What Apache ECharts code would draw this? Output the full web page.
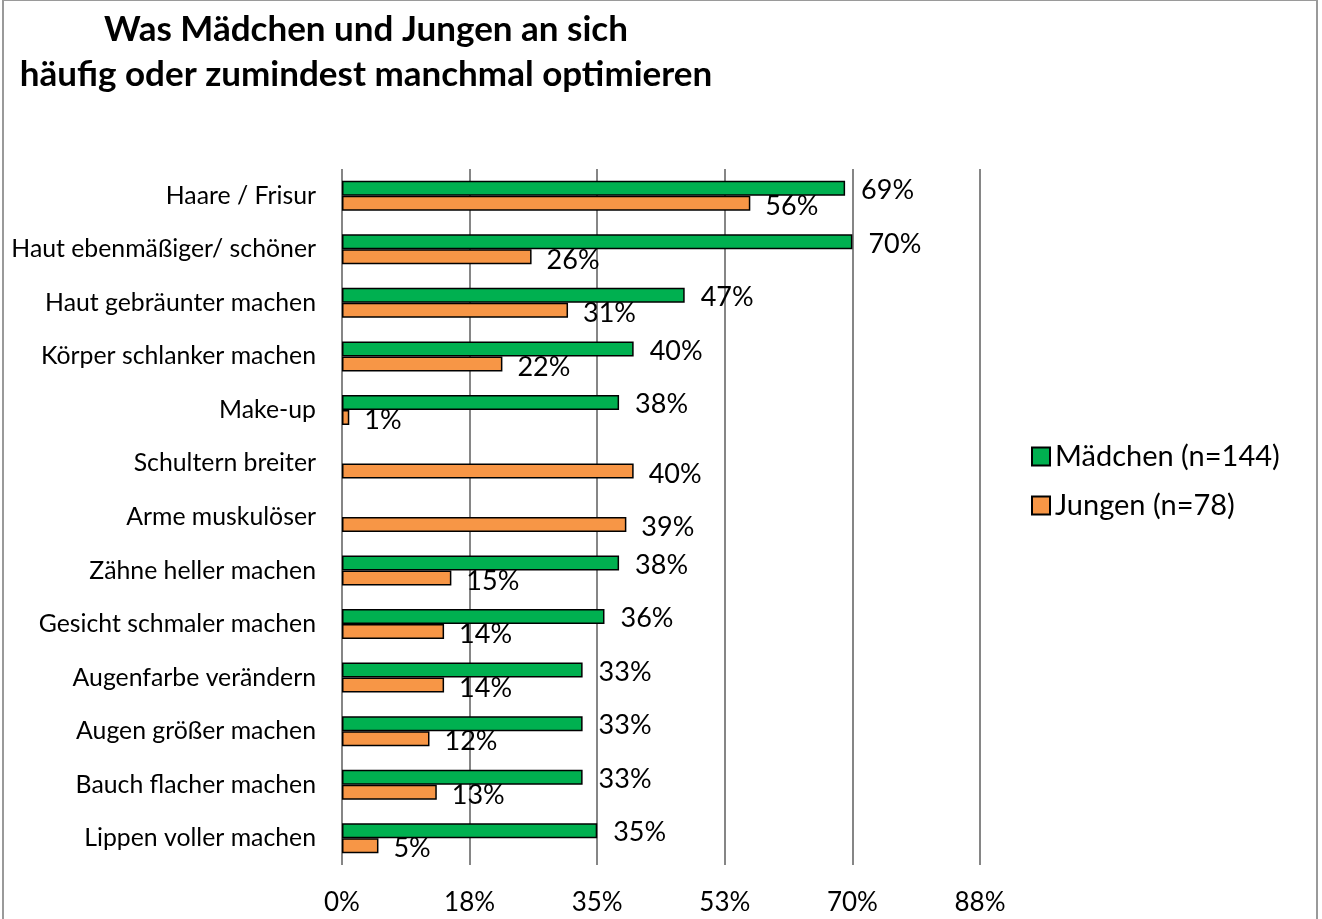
<!DOCTYPE html>
<html>
<head>
<meta charset="utf-8">
<script src="https://cdn.jsdelivr.net/npm/echarts@6/dist/echarts.min.js"></script>
<style>
  html, body { margin: 0; padding: 0; background: #fff; }
  #chart { width: 1322px; height: 919px; }
</style>
</head>
<body>
<div id="chart"></div>
<script>
// Daten
var categories = [
    'Haare / Frisur',
    'Haut ebenmäßiger/ schöner',
    'Haut gebräunter machen',
    'Körper schlanker machen',
    'Make-up',
    'Schultern breiter',
    'Arme muskulöser',
    'Zähne heller machen',
    'Gesicht schmaler machen',
    'Augenfarbe verändern',
    'Augen größer machen',
    'Bauch flacher machen',
    'Lippen voller machen'
];
var maedchen = [69, 70, 47, 40, 38, null, null, 38, 36, 33, 33, 33, 35];
var jungen = [56, 26, 31, 22, 1, 40, 39, 15, 14, 14, 12, 13, 5];
var xTickLabels = ['0%', '18%', '35%', '53%', '70%', '88%'];

var chart = echarts.init(document.getElementById('chart'));
var fontName = 'Lato, "Open Sans", sans-serif';

var option = {
    animation: false,
    textStyle: { fontFamily: fontName },
    title: {
        text: 'Was Mädchen und Jungen an sich\nhäufig oder zumindest manchmal optimieren',
        left: 361,
        top: 2,
        textAlign: 'center',
        textStyle: {
            fontFamily: fontName,
            fontSize: 35,
            fontWeight: 'bold',
            color: '#000',
            lineHeight: 45
        }
    },
    legend: {
        orient: 'vertical',
        left: 1026,
        top: 437,
        itemWidth: 18,
        itemHeight: 18,
        itemGap: 20,
        icon: 'rect',
        textStyle: { fontSize: 29, color: '#000', fontFamily: fontName },
        data: ['Mädchen (n=144)', 'Jungen (n=78)']
    },
    grid: {
        left: 342,
        right: 342,
        top: 169,
        bottom: 54
    },
    xAxis: {
        type: 'value',
        min: 0,
        max: 87.5,
        interval: 17.5,
        axisLine: { show: false },
        axisTick: { show: false },
        axisLabel: {
            fontSize: 26,
            color: '#000',
            margin: 25,
            formatter: function (v, i) { return xTickLabels[i]; }
        },
        splitLine: { lineStyle: { color: '#868686', width: 2 } }
    },
    yAxis: {
        type: 'category',
        inverse: true,
        data: categories,
        axisLine: { show: false },
        axisTick: { show: false },
        axisLabel: { fontSize: 24.8, color: '#000', margin: 26 }
    },
    series: [
        {
            name: 'Mädchen (n=144)',
            type: 'bar',
            barWidth: 15,
            barGap: '0%',
            data: maedchen,
            itemStyle: { color: '#00B050', borderColor: '#000', borderWidth: 1.5 },
            label: {
                show: true,
                position: 'right',
                distance: 16,
                offset: [0, 2],
                fontSize: 27,
                color: '#000',
                formatter: '{c}%'
            }
        },
        {
            name: 'Jungen (n=78)',
            type: 'bar',
            barWidth: 15,
            data: jungen,
            itemStyle: { color: '#F79646', borderColor: '#000', borderWidth: 1.5 },
            label: {
                show: true,
                position: 'right',
                distance: 15,
                offset: [0, 3],
                fontSize: 27,
                color: '#000',
                formatter: '{c}%'
            }
        }
    ],
    graphic: [
        {
            type: 'rect',
            silent: true,
            shape: { x: 3, y: 0, width: 1314, height: 940 },
            style: { fill: 'none', stroke: '#9a9a9a', lineWidth: 2 }
        }
    ]
};

chart.setOption(option);
</script>
</body>
</html>
